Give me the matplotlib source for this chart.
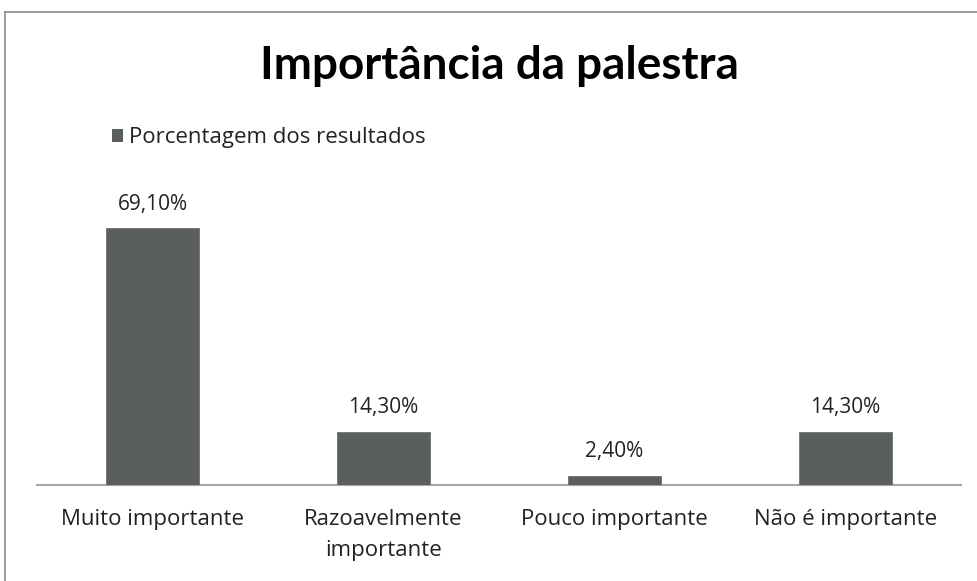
"""Bar chart: Importância da palestra (one series, four answers)."""

import matplotlib

matplotlib.use("Agg")
import matplotlib.pyplot as plt
from matplotlib.lines import Line2D
from matplotlib.patches import Patch

categories = [
    "Muito importante",
    "Razoavelmente\nimportante",
    "Pouco importante",
    "Não é importante",
]
values = [69.10, 14.30, 2.40, 14.30]
series_name = "Porcentagem dos resultados"
title = "Importância da palestra"

BAR = "#5a5e5e"
INK = "#222222"

plt.rcParams["font.family"] = ["Open Sans", "DejaVu Sans"]

W, H = 977, 581
fig = plt.figure(figsize=(W / 100, H / 100), dpi=100)

# plot area in pixel terms: x 37..961, baseline at y=485
left, right, base, top = 37, 961, 485, 188
ax = fig.add_axes([left / W, 1 - base / H, (right - left) / W, (base - top) / H])

x = range(len(categories))
ax.bar(x, values, width=0.4, color=BAR, edgecolor="#6e7272", linewidth=0.6, zorder=3)
for xi, v in zip(x, values):
    ax.annotate(
        f"{v:.2f}%".replace(".", ","),
        (xi, v),
        xytext=(0, 10),
        textcoords="offset points",
        ha="center",
        va="bottom",
        fontsize=15,
        color=INK,
    )

ax.set_xlim(-0.5, len(categories) - 0.5)
ax.set_ylim(0, 80)
ax.set_yticks([])
ax.set_xticks(list(x))
ax.set_xticklabels(categories, fontsize=16, color=INK, linespacing=1.65)
ax.tick_params(axis="x", length=0, pad=17)
for side in ("top", "right", "left"):
    ax.spines[side].set_visible(False)
ax.spines["bottom"].set_color("#a6a6a6")
ax.spines["bottom"].set_linewidth(1.5)

fig.text(499.5 / W, 1 - 66 / H, title, ha="center", va="center",
         fontsize=33, fontweight="bold", color="#000000", family="Lato")

fig.legend(
    handles=[Patch(facecolor=BAR, edgecolor="none", label=series_name)],
    loc="center left",
    bbox_to_anchor=(112 / W, 1 - 138 / H),
    frameon=False,
    handlelength=0.5,
    handleheight=0.5,
    handletextpad=0.25,
    borderpad=0,
    borderaxespad=0,
    fontsize=16,
    labelcolor=INK,
)

# chart frame, cropped at right and bottom
fig.add_artist(Line2D([5 / W, 1], [1 - 12 / H, 1 - 12 / H], color="#8c8c8c", lw=1.2,
                      transform=fig.transFigure))
fig.add_artist(Line2D([5 / W, 5 / W], [1 - 12 / H, 0], color="#8c8c8c", lw=1.2,
                      transform=fig.transFigure))

fig.savefig("out.png", dpi=100)
